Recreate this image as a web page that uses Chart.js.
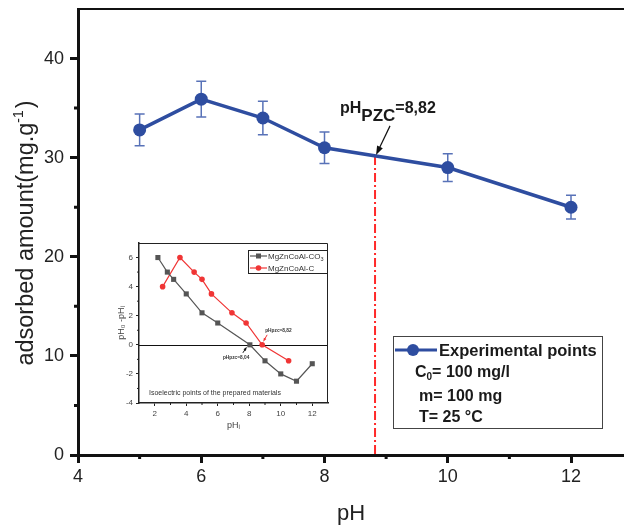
<!DOCTYPE html>
<html>
<head>
<meta charset="utf-8">
<script src="https://cdn.jsdelivr.net/npm/chart.js@4.4.0/dist/chart.umd.min.js"></script>
<style>
  html, body { margin: 0; padding: 0; background: #fff; }
  #wrap { position: relative; width: 624px; height: 529px; }
  #main { position: absolute; left: 0; top: 0; }
  #inset { position: absolute; left: 100px; top: 235px; }
</style>
</head>
<body>
<div id="wrap">
  <canvas id="main" width="624" height="529"></canvas>
  <canvas id="inset" width="240" height="210"></canvas>
</div>
<script>
// main chart data
const phValues = [5, 6, 7, 8, 10, 12];
const adsorbed = [32.8, 35.9, 34.0, 31.0, 29.0, 25.0];
const adsorbedErr = [1.6, 1.8, 1.7, 1.6, 1.4, 1.2];
const phPzc = 8.82;
const xTicksMain = [4, 6, 8, 10, 12];
const yTicksMain = [0, 10, 20, 30, 40];

// inset data
const co3X = [2.2, 2.8, 3.2, 4, 5, 6, 8.04, 9, 10, 11, 12];
const co3Y = [6, 5, 4.5, 3.5, 2.2, 1.5, 0, -1.1, -2, -2.5, -1.3];
const cX = [2.5, 3.6, 4.5, 5, 5.6, 6.9, 7.8, 8.82, 10.5];
const cY = [4, 6, 5, 4.5, 3.5, 2.2, 1.5, 0, -1.1];
const pzcCo3 = 8.04;
const xTicksInset = [2, 4, 6, 8, 10, 12];
const yTicksInset = [-4, -2, 0, 2, 4, 6];

const FONT = "'Liberation Sans', Arial, sans-serif";
Chart.defaults.font.family = FONT;

const BLUE = '#2E4DA0';
const GRAY = '#555555';
const RED = '#F03535';

const toPts = (xs, ys) => xs.map((v, i) => ({ x: v, y: ys[i] }));

const yAtPzc = () => {
  for (let i = 0; i < phValues.length - 1; i++) {
    if (phPzc >= phValues[i] && phPzc <= phValues[i + 1]) {
      const t = (phPzc - phValues[i]) / (phValues[i + 1] - phValues[i]);
      return adsorbed[i] + t * (adsorbed[i + 1] - adsorbed[i]);
    }
  }
  return 0;
};

const arrow = (ctx, x1, y1, x2, y2, color, head, lw) => {
  const a = Math.atan2(y2 - y1, x2 - x1);
  ctx.strokeStyle = color; ctx.fillStyle = color; ctx.lineWidth = lw;
  ctx.beginPath();
  ctx.moveTo(x1, y1);
  ctx.lineTo(x2 - Math.cos(a) * head * 0.8, y2 - Math.sin(a) * head * 0.8);
  ctx.stroke();
  ctx.beginPath();
  ctx.moveTo(x2, y2);
  ctx.lineTo(x2 - head * Math.cos(a) + head * 0.35 * Math.sin(a), y2 - head * Math.sin(a) - head * 0.35 * Math.cos(a));
  ctx.lineTo(x2 - head * Math.cos(a) - head * 0.35 * Math.sin(a), y2 - head * Math.sin(a) + head * 0.35 * Math.cos(a));
  ctx.closePath();
  ctx.fill();
};

// ----------------- MAIN CHART -----------------
const mainDecor = {
  id: 'mainDecor',
  beforeDatasetsDraw(chart) {
    const { ctx, scales: { x, y } } = chart;
    ctx.save();
    // error bars
    ctx.strokeStyle = '#5872B8';
    ctx.lineWidth = 1.5;
    phValues.forEach((v, i) => {
      const px = x.getPixelForValue(v);
      const top = y.getPixelForValue(adsorbed[i] + adsorbedErr[i]);
      const bot = y.getPixelForValue(adsorbed[i] - adsorbedErr[i]);
      ctx.beginPath();
      ctx.moveTo(px, top); ctx.lineTo(px, bot);
      ctx.moveTo(px - 5, top); ctx.lineTo(px + 5, top);
      ctx.moveTo(px - 5, bot); ctx.lineTo(px + 5, bot);
      ctx.stroke();
    });
    // pzc dash-dot line
    const px = x.getPixelForValue(phPzc);
    ctx.strokeStyle = '#FF2A2A';
    ctx.lineWidth = 2;
    ctx.setLineDash([9, 3, 2, 3]);
    ctx.beginPath();
    ctx.moveTo(px, y.getPixelForValue(yAtPzc()));
    ctx.lineTo(px, y.getPixelForValue(0));
    ctx.stroke();
    ctx.restore();
  },
  afterDraw(chart) {
    const { ctx, chartArea: ca, scales: { x, y } } = chart;
    ctx.save();
    // top frame
    ctx.strokeStyle = '#111';
    ctx.lineWidth = 2;
    ctx.beginPath();
    ctx.moveTo(ca.left, ca.top); ctx.lineTo(ca.right, ca.top);
    ctx.stroke();
    // minor ticks
    ctx.lineWidth = 3;
    ctx.beginPath();
    [5, 7, 9, 11].forEach(v => {
      const p = x.getPixelForValue(v);
      ctx.moveTo(p, ca.bottom); ctx.lineTo(p, ca.bottom + 4);
    });
    [5, 15, 25, 35].forEach(v => {
      const p = y.getPixelForValue(v);
      ctx.moveTo(ca.left, p); ctx.lineTo(ca.left - 4, p);
    });
    ctx.stroke();

    // y axis title with superscript
    ctx.save();
    ctx.translate(33, (ca.top + ca.bottom) / 2 + 2);
    ctx.rotate(-Math.PI / 2);
    ctx.fillStyle = '#222';
    ctx.textBaseline = 'alphabetic';
    const main = 'adsorbed amount(mg.g';
    ctx.font = `23.5px ${FONT}`;
    const w1 = ctx.measureText(main).width;
    ctx.font = `14px ${FONT}`;
    const w2 = ctx.measureText('-1').width;
    ctx.font = `23.5px ${FONT}`;
    const w3 = ctx.measureText(')').width;
    let sx = -(w1 + w2 + w3) / 2;
    ctx.fillText(main, sx, 0);
    sx += w1;
    ctx.font = `14px ${FONT}`;
    ctx.fillText('-1', sx, -10);
    sx += w2;
    ctx.font = `23.5px ${FONT}`;
    ctx.fillText(')', sx + 2, 0);
    ctx.restore();

    // pzc annotation
    const ax = x.getPixelForValue(phPzc);
    const ay = y.getPixelForValue(yAtPzc());
    arrow(ctx, ax + 15, ay - 30, ax + 1, ay - 1, '#111', 9, 1.2);
    ctx.fillStyle = '#1a1a1a';
    ctx.textBaseline = 'alphabetic';
    ctx.font = `bold 16px ${FONT}`;
    let tx = ax - 35;
    ctx.fillText('pH', tx, ay - 43);
    tx += ctx.measureText('pH').width;
    ctx.font = `bold 17px ${FONT}`;
    ctx.fillText('PZC', tx, ay - 35);
    tx += ctx.measureText('PZC').width;
    ctx.font = `bold 16px ${FONT}`;
    ctx.fillText('=8,82', tx, ay - 43);

    // legend box
    ctx.strokeStyle = '#444';
    ctx.lineWidth = 1;
    ctx.strokeRect(393.5, 336.5, 209, 92);
    ctx.strokeStyle = BLUE;
    ctx.lineWidth = 3;
    ctx.beginPath();
    ctx.moveTo(395, 350); ctx.lineTo(437, 350);
    ctx.stroke();
    ctx.fillStyle = BLUE;
    ctx.beginPath();
    ctx.arc(413, 350, 6, 0, Math.PI * 2);
    ctx.fill();
    ctx.fillStyle = '#1a1a1a';
    ctx.font = `bold 16.5px ${FONT}`;
    ctx.fillText('Experimental points', 439, 356);
    ctx.font = `bold 16px ${FONT}`;
    ctx.fillText('C', 415, 377);
    let cx = 415 + ctx.measureText('C').width;
    ctx.font = `bold 10px ${FONT}`;
    ctx.fillText('0', cx, 380);
    cx += ctx.measureText('0').width;
    ctx.font = `bold 16px ${FONT}`;
    ctx.fillText('= 100 mg/l', cx, 377);
    ctx.fillText('m= 100 mg', 419, 401);
    ctx.fillText('T= 25 °C', 419, 422);
    ctx.restore();
  }
};

new Chart(document.getElementById('main'), {
  type: 'scatter',
  data: {
    datasets: [{
      label: 'Experimental points',
      data: toPts(phValues, adsorbed),
      showLine: true,
      borderColor: BLUE,
      backgroundColor: BLUE,
      borderWidth: 3.5,
      pointRadius: 6.5,
      pointBorderWidth: 0,
      pointBackgroundColor: BLUE
    }]
  },
  options: {
    responsive: false,
    animation: false,
    layout: { autoPadding: false, padding: { top: 9, right: 0, left: 0, bottom: 0 } },
    plugins: { legend: { display: false }, tooltip: { enabled: false } },
    scales: {
      x: {
        type: 'linear', min: 4, max: 12.86,
        afterFit: s => { s.height = 74; s.paddingLeft = 0; s.paddingRight = 0; },
        afterBuildTicks: s => { s.ticks = xTicksMain.map(v => ({ value: v })); },
        ticks: { font: { size: 18 }, color: '#222', padding: 3, maxRotation: 0, autoSkip: false },
        grid: { drawOnChartArea: false, drawTicks: true, tickLength: 8, tickWidth: 3, tickColor: '#111' },
        border: { display: true, color: '#111', width: 3 },
        title: { display: true, text: 'pH', font: { size: 22 }, color: '#222', padding: { top: 0, bottom: 2 } }
      },
      y: {
        type: 'linear', min: 0, max: 45,
        afterFit: s => { s.width = 78; s.paddingTop = 0; s.paddingBottom = 0; },
        afterBuildTicks: s => { s.ticks = yTicksMain.map(v => ({ value: v })); },
        ticks: { font: { size: 18 }, color: '#222', padding: 6 },
        grid: { drawOnChartArea: false, drawTicks: true, tickLength: 8, tickWidth: 3, tickColor: '#111' },
        border: { display: true, color: '#111', width: 3 },
        title: { display: false }
      }
    }
  },
  plugins: [mainDecor]
});

// ----------------- INSET -----------------
const insetDecor = {
  id: 'insetDecor',
  beforeDatasetsDraw(chart) {
    const { ctx, chartArea: ca, scales: { y } } = chart;
    ctx.save();
    ctx.strokeStyle = '#111';
    ctx.lineWidth = 1;
    const p0 = Math.round(y.getPixelForValue(0)) + 0.5;
    ctx.beginPath();
    ctx.moveTo(ca.left, p0); ctx.lineTo(ca.right, p0);
    ctx.stroke();
    ctx.restore();
  },
  afterDraw(chart) {
    const { ctx, chartArea: ca, scales: { x, y } } = chart;
    ctx.save();
    // top / right frame
    ctx.strokeStyle = '#222';
    ctx.lineWidth = 1;
    ctx.beginPath();
    ctx.moveTo(ca.left, ca.top + 0.5); ctx.lineTo(ca.right - 0.5, ca.top + 0.5); ctx.lineTo(ca.right - 0.5, ca.bottom);
    ctx.stroke();
    // minor ticks
    ctx.lineWidth = 1;
    ctx.beginPath();
    [3, 5, 7, 9, 11].forEach(v => {
      const p = x.getPixelForValue(v);
      ctx.moveTo(p, ca.bottom); ctx.lineTo(p, ca.bottom + 2);
    });
    [-3, -1, 1, 3, 5].forEach(v => {
      const p = y.getPixelForValue(v);
      ctx.moveTo(ca.left, p); ctx.lineTo(ca.left - 2, p);
    });
    ctx.stroke();

    // legend
    ctx.strokeStyle = '#222';
    ctx.strokeRect(148.5, 15.5, 79, 23);
    ctx.lineWidth = 1.2;
    ctx.strokeStyle = GRAY;
    ctx.beginPath(); ctx.moveTo(150, 21); ctx.lineTo(167, 21); ctx.stroke();
    ctx.fillStyle = GRAY;
    ctx.fillRect(156, 18.5, 5, 5);
    ctx.strokeStyle = RED;
    ctx.beginPath(); ctx.moveTo(150, 33); ctx.lineTo(167, 33); ctx.stroke();
    ctx.fillStyle = RED;
    ctx.beginPath(); ctx.arc(158.5, 33, 2.8, 0, Math.PI * 2); ctx.fill();
    ctx.fillStyle = '#333';
    ctx.font = `8px ${FONT}`;
    ctx.textBaseline = 'middle';
    ctx.fillText('MgZnCoAl-CO', 168, 21.5);
    const w = ctx.measureText('MgZnCoAl-CO').width;
    ctx.font = `5.5px ${FONT}`;
    ctx.fillText('3', 168 + w, 24);
    ctx.font = `8px ${FONT}`;
    ctx.fillText('MgZnCoAl-C', 168, 33.5);

    // pzc annotations
    ctx.textBaseline = 'alphabetic';
    const r0 = { x: x.getPixelForValue(phPzc), y: y.getPixelForValue(0) };
    const g0 = { x: x.getPixelForValue(pzcCo3), y: y.getPixelForValue(0) };
    ctx.font = `bold 4.8px ${FONT}`;
    ctx.fillStyle = '#333';
    ctx.fillText('pHpzc=8,82', r0.x + 3, r0.y - 13);
    ctx.fillText('pHpzc=8,04', g0.x - 27, g0.y + 14);
    arrow(ctx, r0.x + 5, r0.y - 10, r0.x + 1, r0.y - 3, RED, 4, 1);
    arrow(ctx, g0.x - 7, g0.y + 8, g0.x - 3, g0.y + 2, '#111', 4, 1);

    ctx.font = `7px ${FONT}`;
    ctx.fillStyle = '#333';
    ctx.fillText('Isoelectric points of the prepared materials', 49, 160);
    ctx.restore();
  }
};

new Chart(document.getElementById('inset'), {
  type: 'scatter',
  data: {
    datasets: [{
      label: 'MgZnCoAl-CO3',
      data: toPts(co3X, co3Y),
      showLine: true,
      borderColor: GRAY,
      backgroundColor: GRAY,
      borderWidth: 1.2,
      pointStyle: 'rect',
      pointRadius: 3.6,
      pointBorderWidth: 0
    }, {
      label: 'MgZnCoAl-C',
      data: toPts(cX, cY),
      showLine: true,
      borderColor: RED,
      backgroundColor: RED,
      borderWidth: 1.2,
      pointStyle: 'circle',
      pointRadius: 2.8,
      pointBorderWidth: 0
    }]
  },
  options: {
    responsive: false,
    animation: false,
    layout: { autoPadding: false, padding: { top: 8, right: 12, left: 0, bottom: 0 } },
    plugins: { legend: { display: false }, tooltip: { enabled: false } },
    scales: {
      x: {
        type: 'linear', min: 1, max: 13,
        afterFit: s => { s.height = 42; s.paddingLeft = 0; s.paddingRight = 0; },
        afterBuildTicks: s => { s.ticks = xTicksInset.map(v => ({ value: v })); },
        ticks: { font: { size: 8 }, color: '#444', padding: 3, maxRotation: 0, autoSkip: false },
        grid: { drawOnChartArea: false, drawTicks: true, tickLength: 3, tickWidth: 1, tickColor: '#222' },
        border: { display: true, color: '#222', width: 1.5 },
        title: { display: true, text: 'pHᵢ', font: { size: 9 }, color: '#444', padding: { top: 0, bottom: 14 } }
      },
      y: {
        type: 'linear', min: -4, max: 7,
        afterFit: s => { s.width = 39; s.paddingTop = 0; s.paddingBottom = 0; },
        afterBuildTicks: s => { s.ticks = yTicksInset.map(v => ({ value: v })); },
        ticks: { font: { size: 8 }, color: '#444', padding: 3 },
        grid: { drawOnChartArea: false, drawTicks: true, tickLength: 3, tickWidth: 1, tickColor: '#222' },
        border: { display: true, color: '#222', width: 1.5 },
        title: { display: true, text: 'pH₀ -pHᵢ', font: { size: 9 }, color: '#444', padding: { top: 16, bottom: 0 } }
      }
    }
  },
  plugins: [insetDecor]
});
</script>
</body>
</html>
